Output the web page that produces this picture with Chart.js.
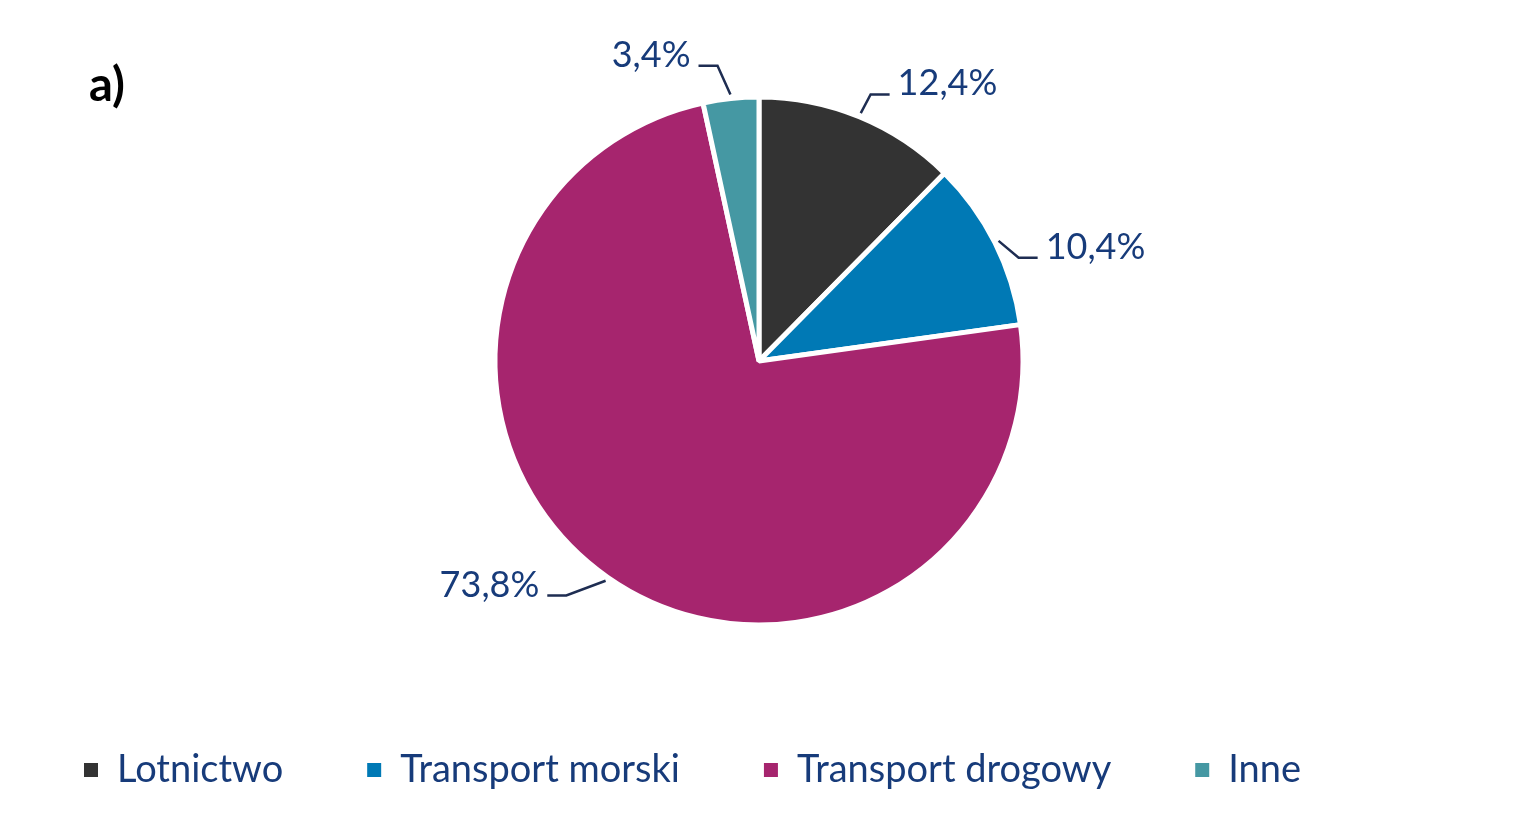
<!DOCTYPE html>
<html>
<head>
<meta charset="utf-8">
<script src="https://cdn.jsdelivr.net/npm/chart.js@4"></script>
<style>
  html, body { margin: 0; padding: 0; background: #ffffff; }
  #wrap { width: 1518px; height: 825px; position: relative; }
</style>
</head>
<body>
<div id="wrap"><canvas id="c" width="1518" height="825"></canvas></div>
<script>
const categories = ['Lotnictwo', 'Transport morski', 'Transport drogowy', 'Inne'];
const shares = [12.4, 10.4, 73.8, 3.4];
const sliceColors = ['#333333', '#0079B5', '#A6256E', '#4598A3'];
const valueLabels = ['12,4%', '10,4%', '73,8%', '3,4%'];
const panelTitle = 'a)';

const FONT = 'Lato, "Open Sans", sans-serif';
const TEXT_BLUE = '#173B7A';
const LEADER = '#1E2D52';

// label placement tweaks (offsets of the elbow point, in px)
const labelNudge = [[3, -2], [4, 25], [-29, 0], [-11, -11]];

const leaderPlugin = {
  id: 'leaderLabels',
  afterDatasetsDraw(chart) {
    const ctx = chart.ctx;
    const meta = chart.getDatasetMeta(0);
    ctx.save();
    meta.data.forEach((arc, i) => {
      const mid = (arc.startAngle + arc.endAngle) / 2;
      const cx = arc.x, cy = arc.y, r = arc.outerRadius;
      const dx = Math.cos(mid), dy = Math.sin(mid);
      const sx = cx + (r + 4) * dx, sy = cy + (r + 4) * dy;
      const ex = cx + (r + 22) * dx + labelNudge[i][0];
      const ey = cy + (r + 22) * dy + labelNudge[i][1];
      const right = dx >= 0;
      const hx = ex + (right ? 19 : -19);
      ctx.strokeStyle = LEADER;
      ctx.lineWidth = 2.5;
      ctx.beginPath();
      ctx.moveTo(sx, sy);
      ctx.lineTo(ex, ey);
      ctx.lineTo(hx, ey);
      ctx.stroke();
      ctx.fillStyle = TEXT_BLUE;
      ctx.font = '36px ' + FONT;
      ctx.textBaseline = 'alphabetic';
      ctx.textAlign = right ? 'left' : 'right';
      ctx.fillText(valueLabels[i], hx + (right ? 8 : -8), ey + 1);
    });
    ctx.restore();
  }
};

const titlePlugin = {
  id: 'panelTitle',
  afterDraw(chart) {
    const ctx = chart.ctx;
    ctx.save();
    ctx.fillStyle = '#000000';
    ctx.font = 'bold 47px ' + FONT;
    ctx.textBaseline = 'alphabetic';
    ctx.textAlign = 'left';
    ctx.fillText(panelTitle, 89, 101);
    ctx.restore();
  }
};

new Chart(document.getElementById('c'), {
  type: 'pie',
  data: {
    labels: categories,
    datasets: [{
      data: shares,
      backgroundColor: sliceColors,
      borderColor: '#ffffff',
      borderWidth: 5,
      hoverOffset: 0
    }]
  },
  options: {
    responsive: false,
    animation: false,
    radius: 264,
    layout: { padding: { top: 55, bottom: 26, left: 0, right: 0 } },
    plugins: {
      tooltip: { enabled: false },
      legend: {
        position: 'bottom',
        align: 'start',
        labels: {
          boxWidth: 14,
          boxHeight: 14,
          padding: 84,
          color: TEXT_BLUE,
          font: { family: FONT, size: 38 },
          generateLabels(chart) {
            return chart.data.labels.map((label, i) => ({
              text: label,
              fillStyle: sliceColors[i],
              strokeStyle: sliceColors[i],
              lineWidth: 0,
              fontColor: TEXT_BLUE,
              hidden: false,
              index: i
            }));
          }
        }
      }
    }
  },
  plugins: [leaderPlugin, titlePlugin]
});
</script>
</body>
</html>
